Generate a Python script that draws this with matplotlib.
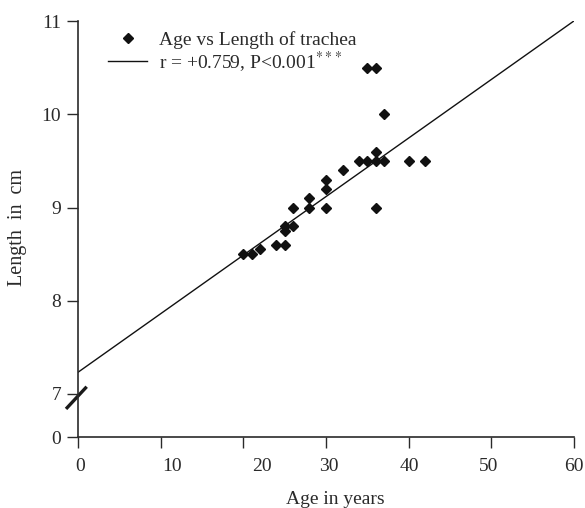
import matplotlib
matplotlib.use("Agg")
import matplotlib.pyplot as plt
import matplotlib.transforms as mtransforms

plt.rcParams['font.family'] = ['Liberation Serif', 'DejaVu Serif']
plt.rcParams['mathtext.fontset'] = 'stix'

# data
age = [20, 21, 22, 24, 25, 25, 25, 26, 26, 28, 28, 30, 30, 30, 32,
       34, 35, 36, 37, 36, 36, 37, 35, 36, 40, 42]
length = [8.5, 8.5, 8.55, 8.6, 8.6, 8.75, 8.8, 8.8, 9.0, 9.0, 9.1, 9.0, 9.2, 9.3, 9.4,
          9.5, 9.5, 9.5, 9.5, 9.6, 9.0, 10.0, 10.5, 10.5, 9.5, 9.5]
fit_intercept = 7.233
fit_slope = 0.0628
fit_x = [0, 60]

xticks = [0, 10, 20, 30, 40, 50, 60]
# label nudges (px) as in the original artwork
xlabel_shift = [2, 11, 19, 3, 1, -2.5, 0]
yticks = [7, 8, 9, 10, 11]

ink = '#2a2a2a'

fig = plt.figure(figsize=(5.85, 5.08), dpi=100)
ax = fig.add_axes([78/585, 1 - 437/508, (574-78)/585, (437-21)/508])

ybreak = 7 - 43/93.25   # where the "0" of the broken axis sits

ax.plot(age, length, linestyle='none', marker='D', markersize=5.0,
        color='#111111', label='Age vs Length of trachea')
fit_y = [fit_intercept + fit_slope*x for x in fit_x]
ax.plot(fit_x, fit_y, color='#111111', lw=1.0,
        label='r = +0.759, P<0.001$^{***}$')

ax.set_xlim(0, 60)
ax.set_ylim(ybreak, 11)

for s in ['top', 'right']:
    ax.spines[s].set_visible(False)
for s in ['left', 'bottom']:
    ax.spines[s].set_color(ink)
    ax.spines[s].set_linewidth(1.2)

ax.set_yticks([ybreak] + yticks)
ax.set_yticklabels(['0'] + [str(v) for v in yticks])
ax.tick_params(axis='y', length=8, width=1.0, color=ink, labelsize=14,
               labelcolor=ink, pad=4)

ax.set_xticks(xticks)
ax.set_xticklabels([])
ax.tick_params(axis='x', length=8, width=1.0, color=ink)
blend = mtransforms.blended_transform_factory(ax.transData, ax.transAxes)
for xv, dx in zip(xticks, xlabel_shift):
    tr = blend + mtransforms.ScaledTranslation(dx/100, -21/100, fig.dpi_scale_trans)
    ax.text(xv, 0, str(xv), transform=tr, ha='center', va='top',
            fontsize=14, color=ink)

# axis break slash
ax.plot([-1.45, 1.05], [6.84, 7.078], color='#1a1a1a', lw=2.4,
        clip_on=False, solid_capstyle='butt')

fig.text(335/585, 1 - 500/508, 'Age in years', ha='center', va='center',
         fontsize=14, color=ink)
fig.text(18/585, 1 - 228/508, 'Length  in  cm', ha='center', va='center',
         rotation=90, fontsize=14.5, color=ink)

leg = ax.legend(loc='upper left', bbox_to_anchor=(0.045, 0.995), frameon=False,
                fontsize=14, handlelength=2.0, handletextpad=0.6,
                labelspacing=0.0, borderaxespad=0)
for t in leg.get_texts():
    t.set_color(ink)

fig.savefig('out.png', dpi=100)
